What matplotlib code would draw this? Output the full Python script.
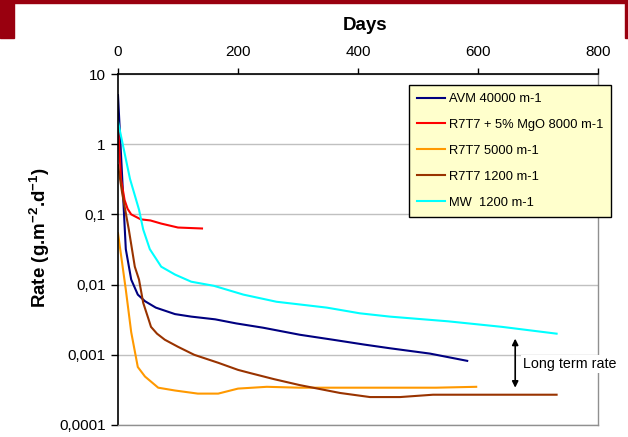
import matplotlib
matplotlib.use("Agg")
import matplotlib.pyplot as plt
from matplotlib.patches import Rectangle
from matplotlib.ticker import FixedLocator, FixedFormatter, NullLocator

plt.rcParams['font.family'] = ['Liberation Sans', 'DejaVu Sans']
plt.rcParams['mathtext.fontset'] = 'custom'
plt.rcParams['mathtext.rm'] = 'Liberation Sans:bold'
plt.rcParams['mathtext.bf'] = 'Liberation Sans:bold'

# --- data -------------------------------------------------------------
days_avm = [0, 13, 22, 33, 45, 63, 95, 122, 162, 197, 242, 303, 358, 410, 453, 520, 582]
rate_avm = [5.0, 0.032, 0.0118, 0.0072, 0.0058, 0.0047, 0.0038, 0.0035, 0.0032,
            0.0028, 0.00243, 0.00193, 0.00164, 0.00140, 0.00124, 0.00104, 0.00082]

days_mgo = [0, 5, 11, 16, 22, 38, 54, 72, 100, 140]
rate_mgo = [1.9, 0.32, 0.16, 0.12, 0.10, 0.085, 0.082, 0.074, 0.065, 0.063]

days_r5000 = [0, 13, 22, 33, 45, 67, 95, 133, 167, 200, 248, 303, 400, 470, 530, 597]
rate_r5000 = [0.054, 0.0085, 0.0021, 0.00067, 0.00049, 0.00034, 0.00031, 0.00028,
              0.00028, 0.00033, 0.00035, 0.00034, 0.00034, 0.00034, 0.00034, 0.00035]

days_r1200 = [0, 7, 18, 28, 35, 42, 50, 55, 65, 78, 100, 127, 167, 200, 220, 260,
              303, 370, 420, 470, 525, 731]
rate_r1200 = [0.5, 0.2, 0.061, 0.018, 0.0118, 0.0055, 0.0034, 0.0025, 0.0020, 0.00164,
              0.0013, 0.001, 0.00077, 0.00061, 0.00055, 0.00045, 0.00037, 0.000286,
              0.00025, 0.00025, 0.00027, 0.00027]

days_mw = [0, 20, 35, 42, 53, 72, 95, 122, 160, 209, 264, 348, 403, 453, 550, 640, 731]
rate_mw = [2.1, 0.32, 0.117, 0.061, 0.032, 0.018, 0.0139, 0.011, 0.0096, 0.0072,
           0.0057, 0.0047, 0.0039, 0.0035, 0.0030, 0.0025, 0.0020]

series_labels = ["AVM 40000 m-1", "R7T7 + 5% MgO 8000 m-1", "R7T7 5000 m-1",
                 "R7T7 1200 m-1", "MW  1200 m-1"]

x_ticks = [0, 200, 400, 600, 800]
y_ticks = [0.0001, 0.001, 0.01, 0.1, 1, 10]
y_tick_labels = ["0,0001", "0,001", "0,01", "0,1", "1", "10"]

long_term_top = 0.0017
long_term_bottom = 0.00034
long_term_day = 662

# --- figure -----------------------------------------------------------
W, H = 628, 437
fig = plt.figure(figsize=(W / 100, H / 100), dpi=100)

# dark red frame decoration along the top
dark_red = '#99000F'
fig.patches.append(Rectangle((0, 1 - 3 / H), 1, 3 / H, transform=fig.transFigure,
                             color=dark_red, zorder=0))
fig.patches.append(Rectangle((0, 1 - 38 / H), 14 / W, 38 / H, transform=fig.transFigure,
                             color=dark_red, zorder=0))
fig.patches.append(Rectangle((625 / W, 1 - 38 / H), 3 / W, 38 / H, transform=fig.transFigure,
                             color=dark_red, zorder=0))

ax = fig.add_axes([118 / W, 1 - 425 / H, 480 / W, 351 / H])
ax.set_yscale('log')
ax.set_xlim(0, 800)
ax.set_ylim(0.0001, 10)

lw = 1.5
ax.plot(days_avm, rate_avm, color='#000080', lw=lw, label=series_labels[0])
ax.plot(days_mgo, rate_mgo, color='#FF0000', lw=lw, label=series_labels[1])
ax.plot(days_r5000, rate_r5000, color='#FF9900', lw=lw, label=series_labels[2])
ax.plot(days_r1200, rate_r1200, color='#993300', lw=lw, label=series_labels[3])
ax.plot(days_mw, rate_mw, color='#00FFFF', lw=lw, label=series_labels[4])

# grid
ax.yaxis.set_major_locator(FixedLocator(y_ticks))
ax.yaxis.set_major_formatter(FixedFormatter(y_tick_labels))
ax.yaxis.set_minor_locator(NullLocator())
ax.grid(axis='y', color='#C0C0C0', lw=1)
ax.set_axisbelow(True)

ax.xaxis.tick_top()
ax.set_xticks(x_ticks)
ax.set_xticklabels([str(v) for v in x_ticks])

ax.tick_params(axis='x', which='major', direction='out', length=4, width=1,
               labelsize=11, pad=7, colors='black')
ax.tick_params(axis='y', which='major', direction='out', length=5, width=1,
               labelsize=11, pad=4, colors='black')

for side in ['left', 'top']:
    ax.spines[side].set_color('black')
    ax.spines[side].set_linewidth(1.2)
for side in ['right', 'bottom']:
    ax.spines[side].set_color('#909090')
    ax.spines[side].set_linewidth(1.0)

# axis titles
fig.text(365 / W, 1 - 25 / H, 'Days', ha='center', va='center',
         fontsize=13.5, fontweight='bold')
fig.text(40 / W, 1 - 238 / H, r'Rate (g.m$^{\mathbf{-2}}$.d$^{\mathbf{-1}}$)',
         ha='center', va='center', rotation=90, fontsize=13.5, fontweight='bold')

# legend
leg = fig.legend(loc='upper left', bbox_to_anchor=(409 / W, 1 - 85 / H),
                 fontsize=9.3, frameon=True, fancybox=False, shadow=False,
                 handlelength=2.2, handletextpad=0.25, labelspacing=1.07,
                 borderpad=0.62, borderaxespad=0)
leg.get_frame().set_facecolor('#FFFFCC')
leg.get_frame().set_edgecolor('black')
leg.get_frame().set_linewidth(1.0)
leg.get_frame().set_alpha(1)

# long term rate annotation
ax.annotate('', xy=(long_term_day, long_term_top), xytext=(long_term_day, long_term_bottom),
            arrowprops=dict(arrowstyle='<|-|>', color='black', lw=1.2,
                            mutation_scale=9, shrinkA=0, shrinkB=0))
ax.text(long_term_day + 13, 0.00074, 'Long term rate', ha='left', va='center',
        fontsize=10.3, clip_on=False,
        bbox=dict(facecolor='white', edgecolor='none', pad=1.5))

fig.savefig('out.png', dpi=100)
